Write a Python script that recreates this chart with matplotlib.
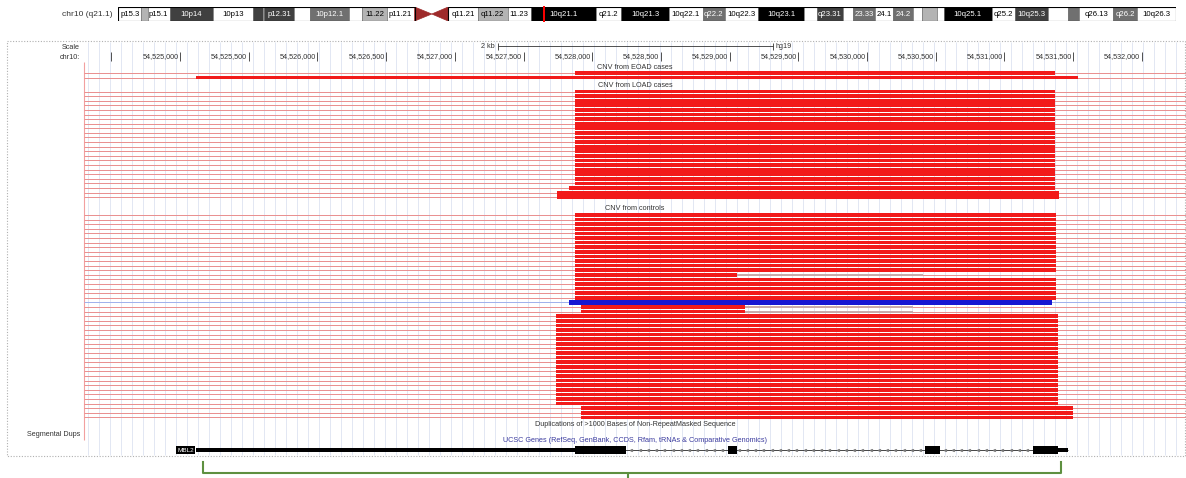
import numpy as np
import matplotlib
matplotlib.use('Agg')
import matplotlib.pyplot as plt
from matplotlib.patches import Rectangle, Polygon
from matplotlib.transforms import offset_copy

plt.rcParams['font.family'] = ['Liberation Sans', 'DejaVu Sans']

# ---------------- data ----------------
# chr10 ideogram (hg19 bands)
chrom_len = 135534747
band_start = [0, 3000000, 3800000, 6600000, 12200000, 17300000, 18600000, 18700000,
              22600000, 24600000, 29600000, 31300000, 34400000, 38000000, 40200000,
              42300000, 46100000, 49900000, 52900000, 61200000, 64500000, 70600000,
              74900000, 77700000, 82000000, 87900000, 89500000, 92900000, 94100000,
              97000000, 99300000, 101900000, 103000000, 104900000, 105800000,
              111900000, 114900000, 119100000, 121700000, 123100000, 127500000,
              130600000]
band_end = band_start[1:] + [chrom_len]
band_stain = ['gneg', 'gpos25', 'gneg', 'gpos75', 'gneg', 'gpos75', 'gneg', 'gpos75',
              'gneg', 'gpos50', 'gneg', 'gpos25', 'gneg', 'acen', 'acen',
              'gneg', 'gpos25', 'gneg', 'gpos100', 'gneg', 'gpos100', 'gneg',
              'gpos50', 'gneg', 'gpos100', 'gneg', 'gpos75', 'gneg', 'gpos50',
              'gneg', 'gpos50', 'gneg', 'gpos25', 'gneg', 'gpos100',
              'gneg', 'gpos75', 'gneg', 'gpos50', 'gneg', 'gpos50', 'gneg']
band_label = ['p15.3', '', 'p15.1', '10p14', '10p13', '', '', 'p12.31',
              '', '10p12.1', '', '11.22', 'p11.21', '', '',
              'q11.21', 'q11.22', '11.23', '10q21.1', 'q21.2', '10q21.3', '10q22.1',
              'q22.2', '10q22.3', '10q23.1', '', 'q23.31', '', '23.33',
              '24.1', '24.2', '', '', '', '10q25.1',
              'q25.2', '10q25.3', '', '', 'q26.13', 'q26.2', '10q26.3']
cur_pos = 54528311

# browser window
view_start, view_end = 54524301, 54532322
tick_pos = [54524500, 54525000, 54525500, 54526000, 54526500, 54527000, 54527500,
            54528000, 54528500, 54529000, 54529500, 54530000, 54530500, 54531000,
            54531500, 54532000]
tick_labels = ['', '54,525,000', '54,525,500', '54,526,000', '54,526,500', '54,527,000',
               '54,527,500', '54,528,000', '54,528,500', '54,529,000', '54,529,500',
               '54,530,000', '54,530,500', '54,531,000', '54,531,500', '54,532,000']
scale_start, scale_end = 54527315, 54529315

# CNV tracks: (rows, thick start, thick end, thin end or None, colour)
eoad_groups = [(1, 54527875, 54531369, None, 'red'),
               (1, 54525116, 54531536, None, 'red')]
load_groups = [(21, 54527875, 54531369, None, 'red'),
               (1, 54527831, 54531369, None, 'red'),
               (2, 54527744, 54531398, None, 'red')]
ctrl_groups = [(13, 54527875, 54531373, None, 'red'),
               (1, 54527875, 54529054, 54530408, 'red'),
               (5, 54527875, 54531373, None, 'red'),
               (1, 54527831, 54531347, None, 'blue'),
               (2, 54527919, 54529112, 54530335, 'red'),
               (20, 54527737, 54531389, None, 'red'),
               (3, 54527919, 54531500, None, 'red')]

# MBL2 gene model
gene_span = (54525116, 54531463)
gene_utr = [(54525116, 54527875), (54531391, 54531463)]
gene_cds = [(54527875, 54528246), (54528989, 54529054), (54530423, 54530532),
            (54531209, 54531391)]
bracket = (54525167, 54528261, 54531412)

# ---------------- figure ----------------
W, H = 1186, 478
fig = plt.figure(figsize=(W / 100, H / 100), dpi=100)
txt = '#333333'

page = fig.add_axes([0, 0, 1, 1])
page.set_xlim(0, W)
page.set_ylim(H, 0)
page.axis('off')
page.add_patch(Rectangle((7, 41), 1178, 415, fill=False, ec='#b0b0b0', lw=0.8,
                         ls=(0, (1, 1.5))))
page.text(113, 14, 'chr10 (q21.1)', ha='right', va='center', fontsize=6, color=txt)
page.text(80, 47, 'Scale', ha='right', va='center', fontsize=5.2, color=txt)
page.text(80, 57, 'chr10:', ha='right', va='center', fontsize=5.2, color=txt)
page.text(80, 434, 'Segmental Dups', ha='right', va='center', fontsize=5.2, color=txt)

# ----------- ideogram -----------
ideo = fig.add_axes([118 / W, 1 - 21 / H, 1058 / W, 14 / H])
ideo.set_xlim(0, chrom_len)
ideo.set_ylim(0, 1)
ideo.axis('off')
shade = {'gneg': 'white', 'gpos25': '#b4b4b4', 'gpos50': '#707070',
         'gpos75': '#404040', 'gpos100': 'black'}
for s, e, st, lab in zip(band_start, band_end, band_stain, band_label):
    if st == 'acen':
        if s < 40000000:
            pts = [(s, 0), (s, 1), (e, 0.5)]
        else:
            pts = [(s, 0.5), (e, 1), (e, 0)]
        ideo.add_patch(Polygon(pts, closed=True, fc='#9e2a2a', ec='#9e2a2a', lw=0.5))
        continue
    ideo.bar(s, 1, width=e - s, bottom=0, align='edge', color=shade[st],
             edgecolor='#666666', lw=0.4)
    if lab:
        ideo.text((s + e) / 2, 0.5, lab, ha='center', va='center', fontsize=5.6,
                  color='black' if st in ('gneg', 'gpos25') else 'white')
acen_s = band_start[band_stain.index('acen')]
acen_e = band_end[len(band_stain) - 1 - band_stain[::-1].index('acen')]
ideo.add_patch(Rectangle((0, 0), acen_s, 1, fill=False, ec='black', lw=0.8))
ideo.add_patch(Rectangle((acen_e, 0), chrom_len - acen_e, 1, fill=False, ec='black', lw=0.8))
ideo.vlines(cur_pos, -0.08, 1.08, color='red', lw=1.4, clip_on=False)

# ----------- tracks -----------
ax = fig.add_axes([84 / W, 0, (W - 84) / W, 1])
ax.set_xlim(view_start, view_end)
ax.set_ylim(H, 0)
ax.axis('off')
xmid = (view_start + view_end) / 2
left_dot = offset_copy(ax.transData, fig=fig, x=-1.5, y=0, units='dots')
right_dot = offset_copy(ax.transData, fig=fig, x=3, y=0, units='dots')

# guidelines
ax.vlines(np.arange(view_start + 30, view_end, 80), 42, 455, color='#dde3f1', lw=0.6, zorder=0)
ax.vlines(view_start, 62, 440, color='#f2a0a0', lw=0.8, clip_on=False, zorder=1)

# scale bar and base positions
ax.hlines(46, scale_start, scale_end, color=txt, lw=0.6)
ax.vlines([scale_start, scale_end], 43, 50, color=txt, lw=0.6)
ax.text(scale_start, 46, '2 kb', ha='right', va='center', fontsize=5.2, color=txt,
        transform=offset_copy(ax.transData, fig=fig, x=-3, y=0, units='dots'))
ax.text(scale_end, 46, 'hg19', ha='left', va='center', fontsize=5.2, color=txt,
        transform=right_dot)
ax.vlines(tick_pos, 52, 61, color=txt, lw=0.6)
for p, lab in zip(tick_pos, tick_labels):
    ax.text(p, 57, lab, ha='right', va='center', fontsize=5.2, color=txt, transform=left_dot)

pitch, thick_h = 4.6, 3.7
colors = {'red': ('#f21a1a', '#e98e8e'), 'blue': ('#1616d2', '#9fb0ec')}


def draw_track(groups, y0, label, label_y):
    ax.text(xmid, label_y, label, ha='center', va='center', fontsize=5.2, color=txt)
    y = y0
    for n, s, e, gap_end, col in groups:
        c_thick, c_thin = colors[col]
        for _ in range(n):
            ax.hlines(y, view_start, view_end, color=c_thin, lw=0.7, zorder=1)
            if gap_end is not None:
                ax.hlines(y, e, gap_end, color='#c9a9a9', lw=1.4, zorder=2)
            h = thick_h + (0.6 if col == 'blue' else 0)
            ax.barh(y, e - s, left=s, height=h, color=c_thick, lw=0, zorder=3)
            y += pitch


draw_track(eoad_groups, 73.0, 'CNV from EOAD cases', 67)
draw_track(load_groups, 91.5, 'CNV from LOAD cases', 85.5)
draw_track(ctrl_groups, 215.0, 'CNV from controls', 208.5)

ax.text(xmid, 425, 'Duplications of >1000 Bases of Non-RepeatMasked Sequence',
        ha='center', va='center', fontsize=5.2, color=txt)
ax.text(xmid, 441, 'UCSC Genes (RefSeq, GenBank, CCDS, Rfam, tRNAs & Comparative Genomics)',
        ha='center', va='center', fontsize=5.2, color='#3b3b9e')

# gene model
gy = 450
ax.hlines(gy, gene_span[0], gene_span[1], color='#444444', lw=0.7, zorder=2)
chev = np.arange(gene_span[0] + 50, gene_span[1], 60)
ax.plot(chev, np.full(len(chev), gy), ls='none', marker='<', ms=1.4, color='#777777', zorder=2)
for s, e in gene_utr:
    ax.barh(gy, e - s, left=s, height=4.5, color='black', lw=0, zorder=3)
for s, e in gene_cds:
    ax.barh(gy, e - s, left=s, height=7.5, color='black', lw=0, zorder=3)
ax.text(gene_span[0], gy, 'MBL2', ha='right', va='center', fontsize=4.6, color='white',
        bbox=dict(fc='black', ec='none', pad=0.8),
        transform=offset_copy(ax.transData, fig=fig, x=-2, y=0, units='dots'))

# green bracket under the gene
bl, bm, br = bracket
ax.plot([bl, bl, br, br], [462, 472.5, 472.5, 462], color='#5e9040', lw=1.5,
        clip_on=False, solid_joinstyle='round')
ax.vlines(bm, 472.5, 480, color='#5e9040', lw=1.5, clip_on=False)

fig.savefig('out.png', dpi=100, facecolor='white')
